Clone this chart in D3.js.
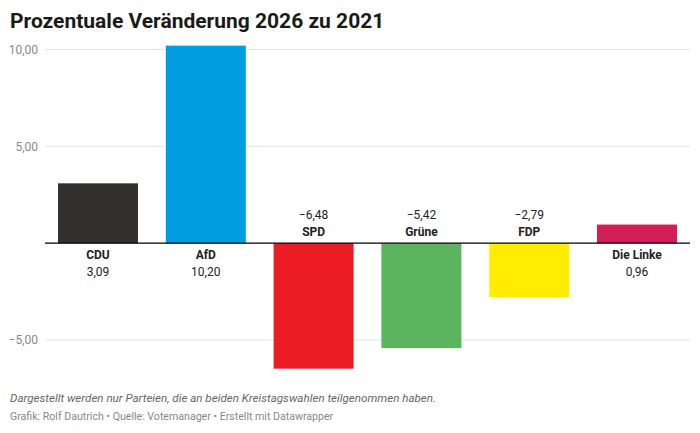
<!DOCTYPE html>
<html><head><meta charset="utf-8">
<script src="https://cdn.jsdelivr.net/npm/d3@7"></script>
<style>body{margin:0;background:#fff;font-family:Roboto,sans-serif}</style>
</head><body>
<script>
const parties = ["CDU", "AfD", "SPD", "Grüne", "FDP", "Die Linke"];
const changes = [3.09, 10.20, -6.48, -5.42, -2.79, 0.96];
const colors = ["#333030", "#009ee0", "#ec1c24", "#5ab55e", "#ffed00", "#d21d56"];
const ticks = [-5, 5, 10];

const W = 700, H = 433;
const fmt = v => d3.format(".2f")(Math.abs(v)).replace(".", ",");
const sgn = v => (v < 0 ? "\u2212" : "") + fmt(v);

const svg = d3.select("body").append("svg").attr("width", W).attr("height", H);

svg.append("text").attr("x", 10).attr("y", 28)
  .attr("font-size", 21).attr("font-weight", 700).attr("fill", "#1a1a1a")
  .text("Prozentuale Veränderung 2026 zu 2021");

const y = d3.scaleLinear().domain([-5, 10]).range([340, 49.5]);
const x = d3.scaleBand().domain(parties).range([58, 677]).paddingInner(0.258).paddingOuter(0);

// grid
ticks.forEach(t => {
  svg.append("line").attr("x1", 45).attr("x2", 690).attr("y1", y(t)).attr("y2", y(t))
    .attr("stroke", "#e3e3e3");
  svg.append("text").attr("x", 38).attr("y", y(t)).attr("dy", "0.35em")
    .attr("text-anchor", "end").attr("font-size", 12)
    .attr("fill", "#888").text(sgn(t));
});

const data = parties.map((p, i) => ({p, v: changes[i], c: colors[i]}));

svg.selectAll("rect.bar").data(data).join("rect")
  .attr("x", d => x(d.p)).attr("width", x.bandwidth())
  .attr("y", d => y(Math.max(0, d.v))).attr("height", d => Math.abs(y(d.v) - y(0)))
  .attr("fill", d => d.c);

svg.append("line").attr("x1", 45).attr("x2", 690).attr("y1", y(0)).attr("y2", y(0))
  .attr("stroke", "#000").attr("stroke-width", 1.3);

const lab = svg.selectAll("g.lab").data(data).join("g")
  .attr("transform", d => `translate(${x(d.p) + x.bandwidth() / 2},${y(0)})`)
  .attr("text-anchor", "middle").attr("font-size", 12).attr("fill", "#222");
lab.append("text").attr("y", d => d.v >= 0 ? 16 : -7).attr("font-weight", 700).text(d => d.p);
lab.append("text").attr("y", d => d.v >= 0 ? 33 : -24).text(d => sgn(d.v));

svg.append("text").attr("x", 10).attr("y", 402).attr("font-size", 11.6)
  .attr("font-style", "italic").attr("fill", "#666")
  .text("Dargestellt werden nur Parteien, die an beiden Kreistagswahlen teilgenommen haben.");
svg.append("text").attr("x", 10).attr("y", 420).attr("font-size", 10.6).attr("fill", "#888")
  .text("Grafik: Rolf Dautrich • Quelle: Votemanager • Erstellt mit Datawrapper");
</script>
</body></html>
